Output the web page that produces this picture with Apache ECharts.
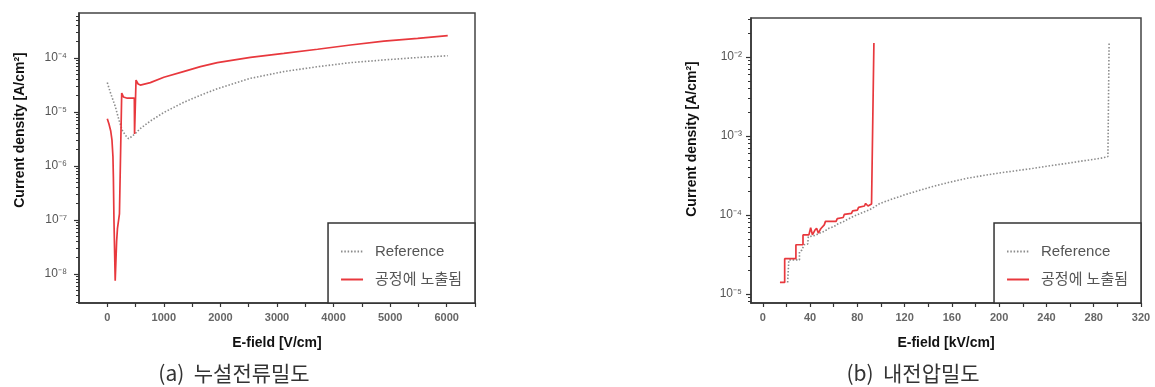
<!DOCTYPE html>
<html>
<head>
<meta charset="utf-8">
<script src="https://cdn.jsdelivr.net/npm/echarts@6/dist/echarts.min.js"></script>
<style>
  html, body { margin: 0; padding: 0; background: #fff; }
  #chart { width: 1155px; height: 387px; }
</style>
</head>
<body>
<div id="chart"></div>
<script>
// (a) 누설전류밀도 - E-field [V/cm] vs current density [A/cm2]
const leakRefField = [0, 60, 142, 200, 260, 320, 377, 430, 484, 580, 673, 761, 850, 1000, 1204, 1345, 1650, 1945, 2250, 2531, 3120, 3717, 4300, 4890, 5487, 6018];
const leakRefValue = [3.5e-5, 2.2e-5, 1.26e-5, 7.5e-6, 4.7e-6, 3.7e-6, 3.2e-6, 3.5e-6, 3.9e-6, 4.9e-6, 5.8e-6, 6.8e-6, 7.8e-6, 9.8e-6, 1.26e-5, 1.5e-5, 2.05e-5, 2.7e-5, 3.4e-5, 4.2e-5, 5.6e-5, 6.9e-5, 8.2e-5, 9.2e-5, 1.02e-4, 1.1e-4];
const leakExpField = [0, 30, 60, 83, 100, 108, 118, 140, 165, 180, 215, 232, 255, 285, 354, 478, 482, 503, 508, 545, 584, 761, 1000, 1345, 1646, 1945, 2531, 3120, 3717, 4300, 4890, 5487, 6018];
const leakExpValue = [7.5e-6, 6.0e-6, 4.5e-6, 3.0e-6, 1.5e-6, 6e-7, 1.0e-7, 7.5e-9, 4e-8, 7e-8, 1.3e-7, 1.4e-7, 2.25e-5, 1.9e-5, 1.8e-5, 1.8e-5, 3.9e-6, 3.9e-6, 3.9e-5, 3.3e-5, 3.15e-5, 3.5e-5, 4.4e-5, 5.6e-5, 6.9e-5, 8.2e-5, 1.03e-4, 1.22e-4, 1.45e-4, 1.74e-4, 2.06e-4, 2.3e-4, 2.6e-4];

// (b) 내전압밀도 - E-field [kV/cm] vs current density [A/cm2]
const bdRefField = [21, 22, 22, 31, 31, 33, 35, 38, 38.5, 44, 48, 52, 56, 60, 64, 68, 71, 76, 82, 86, 90.5, 95, 99, 110, 120, 130, 144, 158, 172, 186, 200, 215, 229, 243, 257, 271, 285, 290, 292, 293];
const bdRefValue = [1.4e-5, 1.4e-5, 2.7e-5, 2.7e-5, 3.4e-5, 3.6e-5, 4.2e-5, 4.3e-5, 5.3e-5, 5.5e-5, 5.9e-5, 6.2e-5, 6.8e-5, 7.1e-5, 7.8e-5, 8.2e-5, 8.7e-5, 9.5e-5, 1.04e-4, 1.1e-4, 1.17e-4, 1.28e-4, 1.4e-4, 1.6e-4, 1.8e-4, 2.0e-4, 2.3e-4, 2.6e-4, 2.9e-4, 3.15e-4, 3.4e-4, 3.65e-4, 3.9e-4, 4.2e-4, 4.5e-4, 4.85e-4, 5.2e-4, 5.4e-4, 5.5e-4, 1.5e-2];
const bdExpField = [14.5, 18.5, 18.5, 28, 28, 34, 34, 39, 40.5, 42, 44, 45.5, 47, 49, 52, 53, 62, 63, 68, 69, 75, 76, 80, 81, 86, 87, 89, 92, 94];
const bdExpValue = [1.4e-5, 1.4e-5, 2.8e-5, 2.8e-5, 4.2e-5, 4.2e-5, 5.6e-5, 5.6e-5, 6.9e-5, 5.6e-5, 6.4e-5, 6.8e-5, 5.9e-5, 6.7e-5, 7.5e-5, 8.3e-5, 8.3e-5, 9.0e-5, 9.3e-5, 1.02e-4, 1.05e-4, 1.13e-4, 1.15e-4, 1.25e-4, 1.3e-4, 1.4e-4, 1.3e-4, 1.38e-4, 1.5e-2];

// axis ticks / labels
const leakXTicks = [0, 500, 1000, 1500, 2000, 2500, 3000, 3500, 4000, 4500, 5000, 5500, 6000, 6500];
const leakXLabels = [0, 1000, 2000, 3000, 4000, 5000, 6000];
const leakYLabels = [1e-8, 1e-7, 1e-6, 1e-5, 1e-4];
const bdXTicks = [0, 20, 40, 60, 80, 100, 120, 140, 160, 180, 200, 220, 240, 260, 280, 300, 320];
const bdXLabels = [0, 40, 80, 120, 160, 200, 240, 280, 320];
const bdYLabels = [1e-5, 1e-4, 1e-3, 1e-2];

const refName = "Reference";
const expName = "공정에 노출됨";

const zip = (xs, ys) => xs.map((x, i) => [x, ys[i]]);

const minorTicks = (lo, hi) => {
  const out = [];
  for (let e = lo; e <= hi; e++) {
    for (let k = 2; k <= 9; k++) out.push(+(k * Math.pow(10, e)).toPrecision(3));
  }
  return out;
};

const supMap = { "-": "⁻", "0": "⁰", "1": "¹", "2": "²", "3": "³", "4": "⁴", "5": "⁵", "6": "⁶", "7": "⁷", "8": "⁸", "9": "⁹" };
const powLabel = (v) => {
  const e = Math.round(Math.log10(v));
  return "10" + String(e).split("").map((c) => supMap[c]).join("");
};

const FONT = '"Liberation Sans", "Noto Sans CJK KR", sans-serif';
const RED = "#e8383d";
const GREY = "#8c8c8c";

const xAxisBase = (grid, min, max, ticks, labels, name) => ({
  type: "value",
  gridIndex: grid,
  min,
  max,
  name,
  nameLocation: "middle",
  nameGap: 33,
  nameTextStyle: { fontFamily: FONT, fontWeight: "bold", fontSize: 14, color: "#111" },
  axisLine: { onZero: false, lineStyle: { color: "#333", width: 1.5 } },
  axisTick: { length: 4, customValues: ticks, lineStyle: { color: "#333", width: 1.2 } },
  axisLabel: {
    customValues: labels, margin: 9, fontFamily: FONT, fontWeight: "bold", fontSize: 11, color: "#666",
    formatter: (v) => String(v),
  },
  splitLine: { show: false },
});

const yAxisMajor = (grid, min, max, labels, margin) => ({
  type: "log",
  gridIndex: grid,
  position: "left",
  min,
  max,
  axisLine: { show: true, onZero: false, lineStyle: { color: "#333", width: 1.5 } },
  axisTick: { length: 5, customValues: labels, lineStyle: { color: "#333", width: 1.2 } },
  axisLabel: { customValues: labels, margin, fontFamily: FONT, fontSize: 12, color: "#555", formatter: powLabel },
  splitLine: { show: false },
});

const yAxisMinor = (grid, min, max, lo, hi) => ({
  type: "log",
  gridIndex: grid,
  position: "left",
  min,
  max,
  axisLine: { show: false, onZero: false },
  axisTick: { length: 3, customValues: minorTicks(lo, hi), lineStyle: { color: "#333", width: 1 } },
  axisLabel: { show: false },
  splitLine: { show: false },
});

const legendBase = (right) => ({
  orient: "vertical",
  right,
  bottom: 84,
  padding: [21, 13, 16, 12],
  itemGap: 13,
  itemWidth: 22,
  itemHeight: 1,
  borderColor: "#333",
  borderWidth: 1.5,
  backgroundColor: "#fff",
  selectedMode: false,
  textStyle: { fontFamily: FONT, fontSize: 15, color: "#555", padding: [0, 0, 0, 7] },
  data: [refName, expName],
});

const refSeries = (xi, yi, data) => ({
  name: refName,
  type: "line",
  xAxisIndex: xi,
  yAxisIndex: yi,
  data,
  symbol: "none",
  lineStyle: { color: GREY, width: 1.6, type: [1.5, 1.8] },
  itemStyle: { color: GREY },
});

const expSeries = (xi, yi, data) => ({
  name: expName,
  type: "line",
  xAxisIndex: xi,
  yAxisIndex: yi,
  data,
  symbol: "none",
  lineStyle: { color: RED, width: 1.7 },
  itemStyle: { color: RED },
});

const chart = echarts.init(document.getElementById("chart"));

const option = {
  animation: false,
  backgroundColor: "#fff",
  grid: [
    { left: 79, top: 13, width: 396, height: 290, show: true, borderColor: "#444", borderWidth: 1.5 },
    { left: 751, top: 18, width: 390, height: 285, show: true, borderColor: "#444", borderWidth: 1.5 },
  ],
  xAxis: [
    xAxisBase(0, -500, 6500, leakXTicks, leakXLabels, "E-field [V/cm]"),
    xAxisBase(1, -10, 320, bdXTicks, bdXLabels, "E-field [kV/cm]"),
  ],
  yAxis: [
    yAxisMajor(0, Math.pow(10, -8.537), Math.pow(10, -3.167), leakYLabels, 12),
    yAxisMinor(0, Math.pow(10, -8.537), Math.pow(10, -3.167), -9, -4),
    yAxisMajor(1, Math.pow(10, -5.114), Math.pow(10, -1.506), bdYLabels, 9),
    yAxisMinor(1, Math.pow(10, -5.114), Math.pow(10, -1.506), -6, -2),
  ],
  legend: [legendBase(680), legendBase(14)],
  series: [
    refSeries(0, 0, zip(leakRefField, leakRefValue)),
    expSeries(0, 0, zip(leakExpField, leakExpValue)),
    refSeries(1, 2, zip(bdRefField, bdRefValue)),
    expSeries(1, 2, zip(bdExpField, bdExpValue)),
  ],
  graphic: [
    {
      type: "text", x: 20, y: 130, rotation: Math.PI / 2,
      style: { text: "Current density [A/cm²]", font: 'bold 14px "Liberation Sans"', fill: "#111", align: "center", verticalAlign: "middle" },
    },
    {
      type: "text", x: 692, y: 139, rotation: Math.PI / 2,
      style: { text: "Current density [A/cm²]", font: 'bold 14px "Liberation Sans"', fill: "#111", align: "center", verticalAlign: "middle" },
    },
    {
      type: "text", x: 234, y: 373,
      style: { text: "(a)  누설전류밀도", font: '21px "Noto Sans CJK KR"', fill: "#333", align: "center", verticalAlign: "middle" },
    },
    {
      type: "text", x: 913, y: 373,
      style: { text: "(b)  내전압밀도", font: '21px "Noto Sans CJK KR"', fill: "#333", align: "center", verticalAlign: "middle" },
    },
  ],
};

chart.setOption(option);
</script>
</body>
</html>
